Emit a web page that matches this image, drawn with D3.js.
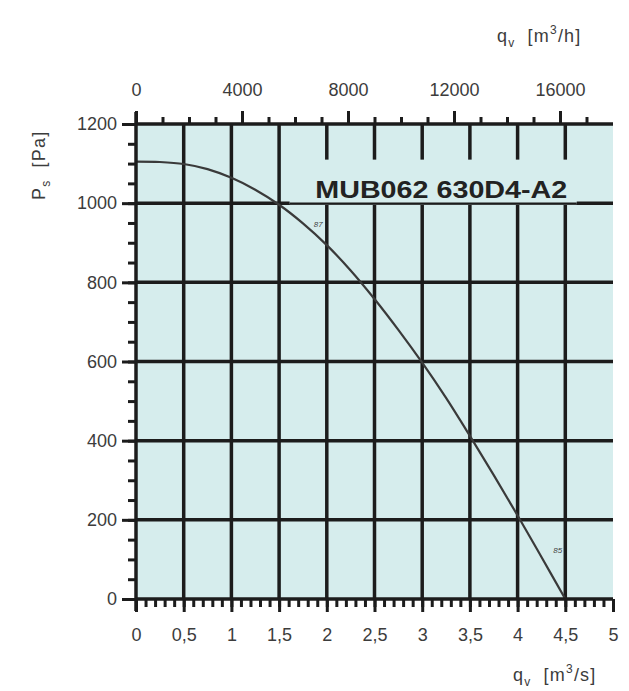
<!DOCTYPE html>
<html><head><meta charset="utf-8">
<script src="https://cdn.jsdelivr.net/npm/d3@7"></script>
<style>body{margin:0;background:#fff}</style></head>
<body><svg id="c" width="629" height="691"></svg>
<script>
// ---- data ----
const flowM3s    = [0, 0.25, 0.5, 0.75, 1.0, 1.25, 1.5, 1.75, 2.0, 2.25, 2.5, 2.75, 3.0, 3.25, 3.5, 3.75, 4.0, 4.25, 4.5];
const pressurePa = [1105, 1104, 1099, 1086, 1064, 1034, 996, 949, 894, 830, 758, 680, 597, 508, 412, 313, 211, 106, 0];
const bottomTicks = [0, 0.5, 1, 1.5, 2, 2.5, 3, 3.5, 4, 4.5, 5];
const bottomTickLabels = ["0", "0,5", "1", "1,5", "2", "2,5", "3", "3,5", "4", "4,5", "5"];
const leftTicks = [0, 200, 400, 600, 800, 1000, 1200];
const topTicks = [0, 4000, 8000, 12000, 16000];
const curveLabelText = ["87", "85"];
const curveLabelQ = [1.91, 4.42];
const curveLabelP = [940, 116];
const modelName = "MUB062 630D4-A2";

// ---- layout ----
const svg = d3.select("#c");
const L = 136, R = 613, T = 124, B = 599;
const x = d3.scaleLinear([0, 5], [L, R]);
const xTop = d3.scaleLinear([0, 18000], [L, R]);
const y = d3.scaleLinear([0, 1200], [B, T]);
const bg = "#d6eded", ink = "#1c1c1c", txt = "#3c3c3c";
const font = "'Liberation Sans', Arial, sans-serif";

svg.append("rect").attr("x", L).attr("y", T).attr("width", R - L).attr("height", B - T).attr("fill", bg);

// grid
const g = svg.append("g").attr("stroke", ink).attr("stroke-width", 3.5);
g.selectAll(".h").data(leftTicks.filter(d => d > 0 && d < 1200)).join("line")
  .attr("x1", L).attr("x2", R).attr("y1", d => y(d)).attr("y2", d => y(d));
g.selectAll(".v").data(bottomTicks.filter(d => d > 0 && d < 5)).join("line")
  .attr("y1", T).attr("y2", B).attr("x1", d => x(d)).attr("x2", d => x(d));

// model label box
const bx0 = x(1.61), bx1 = x(4.62), by0 = y(1110), by1 = y(1000);
svg.append("rect").attr("x", bx0).attr("y", by0).attr("width", bx1 - bx0).attr("height", by1 - by0 + 1).attr("fill", bg);
svg.append("line").attr("x1", bx0).attr("x2", bx1).attr("y1", by1).attr("y2", by1).attr("stroke", ink).attr("stroke-width", 1.5);
svg.append("text").attr("x", x(3.2)).attr("y", by1 - 5).attr("text-anchor", "middle")
  .attr("font-family", font).attr("font-weight", "bold").attr("font-size", 24).attr("fill", "#222")
  .attr("textLength", 252).attr("lengthAdjust", "spacingAndGlyphs").text(modelName);

// curve
const pts = flowM3s.map((q, i) => [q, pressurePa[i]]);
svg.append("path").datum(pts)
  .attr("d", d3.line().x(d => x(d[0])).y(d => y(d[1])).curve(d3.curveCatmullRom.alpha(0.5)))
  .attr("fill", "none").attr("stroke", "#3a3a3a").attr("stroke-width", 2.2);
svg.selectAll(".cl").data(curveLabelText).join("text")
  .attr("x", (d, i) => x(curveLabelQ[i])).attr("y", (d, i) => y(curveLabelP[i]))
  .attr("text-anchor", "middle").attr("font-family", font).attr("font-size", 8).attr("fill", "#444")
  .attr("font-style", "italic").text(d => d);

// axes
function styleAxis(sel, fs) {
  sel.select(".domain").remove();
  sel.selectAll(".tick line").attr("stroke", ink).attr("stroke-width", 3);
  sel.selectAll(".tick text").attr("font-family", font).attr("font-size", fs).attr("fill", txt);
}
// bottom
const minorB = d3.range(0, 51).map(d => d / 10);
svg.append("g").attr("transform", `translate(0,${B})`)
  .call(d3.axisBottom(x).tickValues(minorB).tickSize(8).tickFormat("")).call(s => styleAxis(s, 18));
svg.append("g").attr("transform", `translate(0,${B})`)
  .call(d3.axisBottom(x).tickValues(bottomTicks).tickSize(13).tickPadding(16)
    .tickFormat((d, i) => bottomTickLabels[i])).call(s => styleAxis(s, 18));
// left
const minorL = d3.range(0, 1201, 50);
svg.append("g").attr("transform", `translate(${L},0)`)
  .call(d3.axisLeft(y).tickValues(minorL).tickSize(8).tickFormat("")).call(s => styleAxis(s, 18));
svg.append("g").attr("transform", `translate(${L},0)`)
  .call(d3.axisLeft(y).tickValues(leftTicks).tickSize(14).tickPadding(5).tickFormat(d3.format("d")))
  .call(s => styleAxis(s, 18));
// top
const minorT = d3.range(0, 17001, 1000);
svg.append("g").attr("transform", `translate(0,${T})`)
  .call(d3.axisTop(xTop).tickValues(minorT).tickSize(7).tickFormat("")).call(s => styleAxis(s, 18));
svg.append("g").attr("transform", `translate(0,${T})`)
  .call(d3.axisTop(xTop).tickValues(topTicks).tickSize(13).tickPadding(15).tickFormat(d3.format("d")))
  .call(s => styleAxis(s, 18));

// axis lines
svg.append("line").attr("x1", L).attr("x2", L).attr("y1", T - 12).attr("y2", B + 12).attr("stroke", ink).attr("stroke-width", 3.5);
svg.append("line").attr("x1", L - 1).attr("x2", R).attr("y1", B).attr("y2", B).attr("stroke", ink).attr("stroke-width", 3.5);
svg.append("line").attr("x1", L - 1).attr("x2", R).attr("y1", T).attr("y2", T).attr("stroke", ink).attr("stroke-width", 3.5);

// axis titles
function unitTitle(xp, yp, sub, unit, sup, rest, rot) {
  const t = svg.append("text").attr("font-family", font).attr("font-size", 18).attr("fill", txt)
    .attr("letter-spacing", 1.2)
    .attr("transform", `translate(${xp},${yp})` + (rot ? " rotate(-90)" : ""));
  t.append("tspan").text(unit[0]);
  t.append("tspan").attr("font-size", 12).attr("dy", 5).text(sub);
  t.append("tspan").attr("dy", -5).attr("dx", 6).text(unit.slice(1));
  if (sup) {
    t.append("tspan").attr("font-size", 12).attr("dy", -8).text(sup);
    t.append("tspan").attr("dy", 8).text(rest);
  }
  return t;
}
unitTitle(497, 42, "v", "q [m", "3", "/h]", false);
unitTitle(513, 681, "v", "q [m", "3", "/s]", false);
unitTitle(45, 200, "s", "P [Pa]", null, null, true);
</script></body></html>
